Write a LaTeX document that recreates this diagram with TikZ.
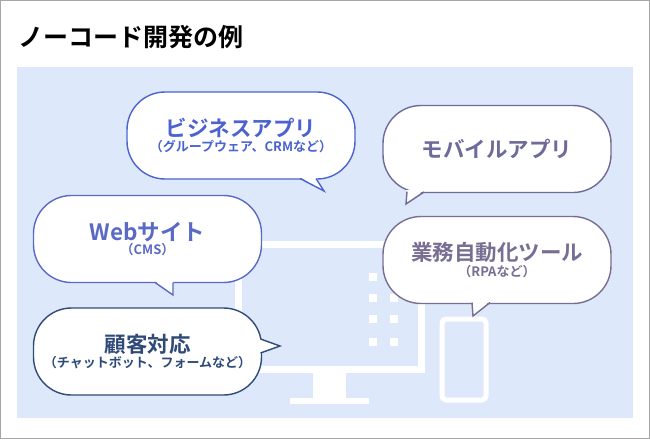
\documentclass[tikz,border=0pt]{standalone}
\usepackage{fontspec}
\newfontfamily\jp{Noto Sans CJK JP Bold}
\definecolor{bg}{HTML}{DDE8FB}
\definecolor{cA}{HTML}{4A63D0}
\definecolor{cB}{HTML}{6E6A9A}
\definecolor{cC}{HTML}{5A6AC4}
\definecolor{cD}{HTML}{786E92}
\definecolor{cE}{HTML}{2F4A78}
\begin{document}
\begin{tikzpicture}[x=1pt,y=-1pt,
 bub/.style={draw=#1,line width=1.4pt,fill=white,rounded corners=38pt,minimum width=228pt,minimum height=87pt,inner sep=0pt,text=#1,align=center,font=\jp},
 tailst/.style={draw=#1,line width=1.4pt,line join=miter},
 dev/.style={draw=white,line width=7pt},
 sq/.style={fill=white,minimum size=8pt,inner sep=0pt}]
\useasboundingbox (0,0) rectangle (650,439);
\draw[gray!70,line width=1pt] (0.5,0.5) rectangle (649.5,438.5);
\node[anchor=west,font=\jp\fontsize{25}{28}\selectfont] (title) at (15,37) {ノーコード開発の例};
\fill[bg] (17,67) rectangle (633,418);
% devices
\draw[dev] (238,244) rectangle (421,369);
\fill[white] (313,373) rectangle (346,398);
\fill[white] (290,398) rectangle (369,404);
\draw[white,line width=5pt,rounded corners=4pt] (442,319) rectangle (486,400);
\foreach \yy in {277,298,319,342}{\node[sq] at (373,\yy){};\node[sq] at (394,\yy){};}
% bubbles
\node[bub=cA] (biz) at (241,135.5) {{\fontsize{21.5}{24}\selectfont ビジネスアプリ}\\[1pt]{\fontsize{13}{15}\selectfont （グループウェア、CRMなど）}};
\node[bub=cB] (mob) at (497,149) {{\fontsize{21.5}{24}\selectfont モバイルアプリ}};
\node[bub=cC] (web) at (147.5,239) {{\fontsize{22.5}{26}\selectfont Webサイト}\\[1pt]{\fontsize{13}{15}\selectfont （CMS）}};
\node[bub=cD] (gyo) at (497,260) {{\fontsize{21.5}{24}\selectfont 業務自動化ツール}\\[1pt]{\fontsize{13}{15}\selectfont （RPAなど）}};
\node[bub=cE] (kok) at (147.5,351.5) {{\fontsize{21.5}{24}\selectfont 顧客対応}\\[1pt]{\fontsize{13}{15}\selectfont （チャットボット、フォームなど）}};
% tails
\coordinate (t1) at (324,191); \fill[white] (300,177)--(t1)--(316,177)--cycle; \draw[tailst=cA] (300,178.5)--(t1)--(316,178.5);
\coordinate (t2) at (406,204); \fill[white] (406,190)--(t2)--(424,190)--cycle; \draw[tailst=cB] (407,191.5)--(t2)--(424,192);
\coordinate (t3) at (173,295); \fill[white] (155,281)--(t3)--(173,281)--cycle; \draw[tailst=cC] (155,282.5)--(t3)--(173,282.5);
\coordinate (t4) at (473,316); \fill[white] (472,301)--(t4)--(490,301)--cycle; \draw[tailst=cD] (472,302.5)--(t4)--(490,302.5);
\coordinate (t5) at (280,346); \fill[white] (259,339)--(t5)--(259,353)--cycle; \draw[tailst=cE] (260.5,339)--(t5)--(260.5,353);
\end{tikzpicture}
\end{document}
